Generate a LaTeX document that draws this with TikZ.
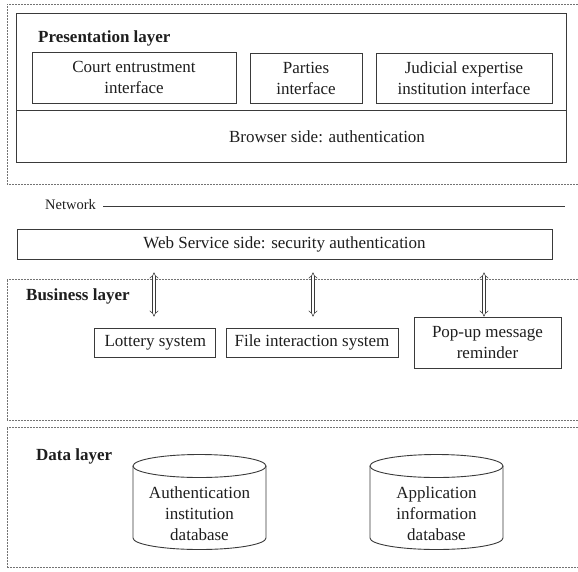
\documentclass[tikz,border=0pt]{standalone}
\usepackage{fontspec}
\setmainfont{Liberation Serif}
\usetikzlibrary{arrows.meta,calc}
\definecolor{edge}{HTML}{3A3A3A}
\definecolor{ink}{HTML}{1E1E1E}
\begin{document}
\begin{tikzpicture}[x=1pt,y=1pt,
  every node/.style={text=ink},
  mainfont/.style={font=\fontsize{17}{21}\selectfont},
  boxnode/.style={draw=edge, line width=0.9pt, inner sep=0pt, align=center, mainfont},
  layerbox/.style={draw=black!55, line width=0.6pt, dash pattern=on 0.8pt off 0.7pt},
  layertitle/.style={anchor=west, inner sep=0pt, font=\fontsize{17}{21}\selectfont\bfseries},
  dbl/.style={draw=edge, line width=0.55pt, double=white, double distance=2.6pt, {Implies}-{Implies}},
  plain/.style={inner sep=0pt, align=center, mainfont}]
\useasboundingbox (0,0) rectangle (578,-571);

% layer frames (open to the right)
\draw[layerbox] (578,-4) -- (7,-4) -- (7,-184) -- (578,-184);
\draw[layerbox] (578,-279) -- (7,-279) -- (7,-420) -- (578,-420);
\draw[layerbox] (578,-427) -- (7,-427) -- (7,-567) -- (578,-567);

% presentation layer
\node[boxnode, minimum width=550pt, minimum height=149pt] (pres) at (291,-88) {};
\draw[draw=edge, line width=0.9pt] (16,-110) -- (566,-110);
\node[layertitle] (ptitle) at (38,-38) {Presentation layer};
\node[boxnode, minimum width=204pt, minimum height=51pt] (court) at (134,-77.5) {Court entrustment\\interface};
\node[boxnode, minimum width=112pt, minimum height=50pt] (parties) at (306,-78) {Parties\\interface};
\node[boxnode, minimum width=176pt, minimum height=50pt] (judicial) at (464,-78) {Judicial expertise\\institution interface};
\node[plain] (browser) at (327,-137) {Browser side: authentication};

% network
\node[anchor=west, inner sep=0pt, font=\fontsize{14.5}{17}\selectfont] (net) at (45,-205) {Network};
\coordinate (netend) at (565,-206);
\draw[draw=edge, line width=0.8pt] (103,-206) -- (netend);

% web service
\node[boxnode, minimum width=535pt, minimum height=30pt] (web) at (284.5,-244) {Web Service side: security authentication};

% business layer
\node[layertitle] (btitle) at (26,-296.5) {Business layer};
\node[boxnode, minimum width=121pt, minimum height=29pt] (lottery) at (155.3,-342.5) {Lottery system};
\node[boxnode, minimum width=172pt, minimum height=29pt] (file) at (312,-342.5) {File interaction system};
\node[boxnode, minimum width=147pt, minimum height=51pt] (popup) at (487.5,-342.5) {Pop-up message\\reminder};

\coordinate (a1t) at ($(web.south -| 154,0)+(0,-13)$);
\coordinate (a2t) at ($(web.south -| 313,0)+(0,-13)$);
\coordinate (a3t) at ($(web.south -| 484,0)+(0,-13)$);
\draw[dbl] (a1t) -- ($(lottery.north -| 154,0)+(0,11)$);
\draw[dbl] (a2t) -- ($(file.north -| 313,0)+(0,11)$);
\draw[dbl] (a3t) -- (popup.north -| 484,0);

% data layer
\node[layertitle] (dtitle) at (36,-456) {Data layer};
\node[plain] (db1) at (199.5,-514) {Authentication\\institution\\database};
\node[plain] (db2) at (436.5,-514) {Application\\information\\database};
\foreach \cx in {199.5,436.5}{
  \draw[draw=edge, line width=0.9pt] (\cx-66.5,-466) -- (\cx-66.5,-538)
     arc[start angle=180, end angle=360, x radius=66.5pt, y radius=11.5pt] -- (\cx+66.5,-466);
  \draw[draw=edge, line width=0.9pt] (\cx,-466) ellipse[x radius=66.5pt, y radius=11.5pt];
}
\end{tikzpicture}
\end{document}
